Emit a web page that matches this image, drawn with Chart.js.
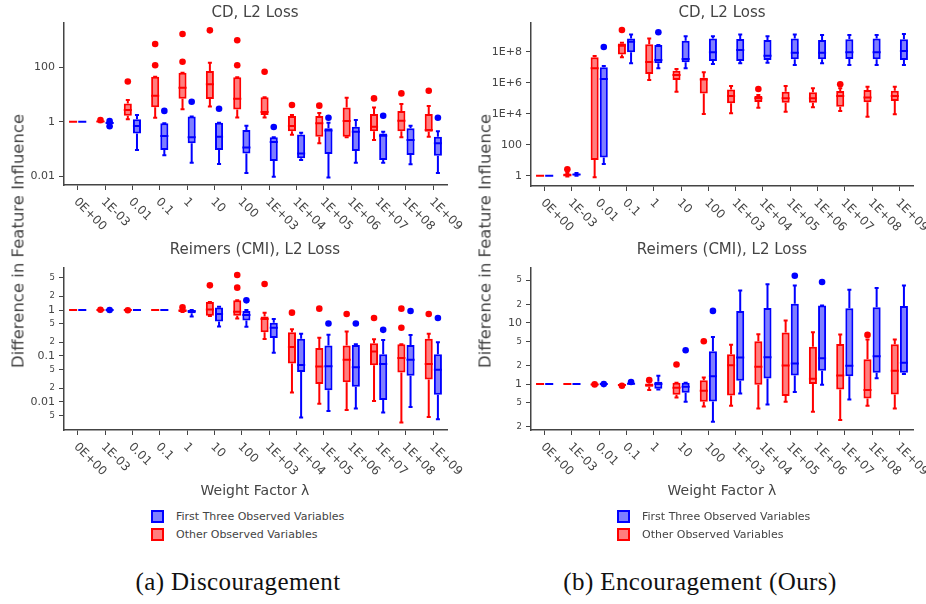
<!DOCTYPE html>
<html>
<head>
<meta charset="utf-8">
<script src="https://cdn.jsdelivr.net/npm/chart.js@4.4.1/dist/chart.umd.min.js"></script>
<style>
  body { margin: 0; background: #fff; }
  #wrap { position: relative; width: 926px; height: 604px; font-family: "DejaVu Sans", sans-serif; color: #444; }
  canvas { position: absolute; }
  .ctr { position: absolute; width: 400px; text-align: center; white-space: nowrap; }
  .ytl { position: absolute; white-space: nowrap; font-size: 16.5px; transform: translate(-50%, -50%) rotate(-90deg); }
  .leg { position: absolute; font-size: 11px; white-space: nowrap; line-height: 12px; }
  .sw { display: inline-block; width: 9px; height: 9px; border: 2px solid; vertical-align: top; margin-right: 12px; margin-top: -1px; }
  .cap { position: absolute; width: 400px; text-align: center; font-family: "Liberation Serif", serif; font-size: 25px; letter-spacing: 0.4px; color: #111; }
</style>
</head>
<body>
<div id="wrap">
  <canvas id="cdDisc" width="466" height="240" style="left:0;top:0"></canvas>
  <canvas id="cdEnc" width="466" height="240" style="left:460px;top:0"></canvas>
  <canvas id="cmiDisc" width="466" height="260" style="left:0;top:240px"></canvas>
  <canvas id="cmiEnc" width="466" height="260" style="left:460px;top:240px"></canvas>

  <div class="ctr" style="left:55px;top:3px;font-size:15px">CD, L2 Loss</div>
  <div class="ctr" style="left:522px;top:3px;font-size:15px">CD, L2 Loss</div>
  <div class="ctr" style="left:55px;top:240px;font-size:15px">Reimers (CMI), L2 Loss</div>
  <div class="ctr" style="left:522px;top:240px;font-size:15px">Reimers (CMI), L2 Loss</div>

  <div class="ytl" style="left:18px;top:241px">Difference in Feature Influence</div>
  <div class="ytl" style="left:485px;top:241px">Difference in Feature Influence</div>

  <div class="ctr" style="left:55px;top:482px;font-size:14px">Weight Factor λ</div>
  <div class="ctr" style="left:522px;top:482px;font-size:14px">Weight Factor λ</div>

  <div class="leg" style="left:151px;top:511px"><span class="sw" style="border-color:#00f;background:rgba(0,0,255,0.5)"></span>First Three Observed Variables</div>
  <div class="leg" style="left:151px;top:529px"><span class="sw" style="border-color:#f00;background:rgba(255,0,0,0.5)"></span>Other Observed Variables</div>
  <div class="leg" style="left:617px;top:511px"><span class="sw" style="border-color:#00f;background:rgba(0,0,255,0.5)"></span>First Three Observed Variables</div>
  <div class="leg" style="left:617px;top:529px"><span class="sw" style="border-color:#f00;background:rgba(255,0,0,0.5)"></span>Other Observed Variables</div>

  <div class="cap" style="left:38px;top:568px">(a) Discouragement</div>
  <div class="cap" style="left:500px;top:568px">(b) Encouragement (Ours)</div>
</div>

<script>
'use strict'
///data: every box is [lower whisker, q1, median, q3, upper whisker]///

let lambdaLabels = ['0E+00', '1E-03', '0.01', '0.1', '1', '10', '100', '1E+03', '1E+04', '1E+05', '1E+06', '1E+07', '1E+08', '1E+09']

//CD, discouragement
let cdDiscOther = [
  [1, 1, 1, 1, 1], [0.95, 0.98, 1.02, 1.08, 1.12], [1.22, 1.66, 2.7, 4.7, 6.3], [1.4, 3.4, 9.1, 45, 45],
  [2.9, 7, 17.9, 63, 63], [3.6, 6.8, 23.7, 73, 148], [1.44, 2.8, 7, 43, 43], [1.44, 1.76, 2.27, 7.9, 8],
  [0.33, 0.45, 0.69, 1.62, 1.76], [0.16, 0.28, 0.87, 1.62, 2.1], [0.27, 0.28, 1.06, 3.3, 7.6], [0.21, 0.45, 0.65, 1.92, 3.3],
  [0.265, 0.45, 1.09, 2.47, 4.5], [0.28, 0.43, 0.49, 1.92, 3.8]
]
let cdDiscOtherOut = [[], [1.15], [30], [720, 120], [1690, 160], [2300], [1000, 120], [69], [4.1], [3.9], [], [7.2], [11], [13.8]]
let cdDiscFirst = [
  [1, 1, 1, 1, 1], [0.8, 0.85, 0.9, 0.95, 1], [0.091, 0.37, 0.69, 1.22, 1.76], [0.058, 0.091, 0.3, 0.87, 0.87],
  [0.031, 0.16, 0.265, 1.57, 1.57], [0.028, 0.091, 0.28, 0.92, 0.92], [0.013, 0.068, 0.113, 0.49, 0.71], [0.0095, 0.036, 0.18, 0.265, 0.27],
  [0.039, 0.045, 0.068, 0.34, 0.39], [0.0089, 0.065, 0.47, 0.57, 0.92], [0.031, 0.083, 0.43, 0.65, 1.15], [0.031, 0.039, 0.305, 0.37, 0.43],
  [0.027, 0.059, 0.21, 0.57, 0.71], [0.013, 0.056, 0.16, 0.28, 0.45]
]
let cdDiscFirstOut = [[], [1.05, 0.68], [], [2.5], [5.4], [3], [], [0.64], [], [1.4], [], [1.66], [], [1.4]]

//CD, encouragement
let cdEncOther = [
  [1, 1, 1, 1, 1], [0.9, 1, 1.05, 1.4, 1.5], [0.78, 10.3, 8.4e6, 4.3e7, 5.2e7], [4.3e7, 6.7e7, 2.4e8, 3.4e8, 3.8e8],
  [1.5e6, 3.6e6, 2.2e7, 3e8, 7.2e8], [2.6e5, 1.5e6, 3.1e6, 5.9e6, 7.6e6], [9.5e3, 2e5, 1.6e6, 2.1e6, 4.7e6], [1.05e4, 4.7e4, 1.4e5, 3.7e5, 6.1e5],
  [2.4e4, 5.6e4, 9.8e4, 1.4e5, 1.6e5], [1.35e4, 5.1e4, 9.8e4, 2.6e5, 6.1e5], [2.6e4, 5.1e4, 9.8e4, 2.4e5, 4.3e5], [1.5e4, 2.8e4, 1.4e5, 2.9e5, 4.3e5],
  [6.4e3, 5.4e4, 1.1e5, 3.4e5, 5.5e5], [9.1e3, 6.6e4, 1.4e5, 3e5, 5.5e5]
]
let cdEncOtherOut = [[], [2.6], [], [2.5e9], [], [], [], [], [3.9e5], [], [], [7.8e5], [], []]
let cdEncFirst = [
  [1, 1, 1, 1, 1], [1, 1.05, 1.2, 1.35, 1.5], [5.7, 15, 1.7e6, 9.8e6, 1.2e7], [1.8e7, 9.1e7, 4.4e8, 7.2e8, 1.3e9],
  [8.4e6, 1.8e7, 2.9e7, 2.7e8, 2.7e8], [8.4e6, 2.1e7, 3.4e7, 5.1e8, 1e9], [1.6e7, 2.5e7, 9.1e7, 7.2e8, 1e9], [1.8e7, 2.5e7, 1.3e8, 6.6e8, 1.3e9],
  [1.9e7, 2.9e7, 5.5e7, 5.6e8, 1e9], [1.4e7, 3.2e7, 8.7e7, 7.2e8, 1.3e9], [1.8e7, 3.2e7, 8.7e7, 5.6e8, 1.2e9], [1.4e7, 3.4e7, 9.1e7, 6.3e8, 1.2e9],
  [1.4e7, 3.2e7, 9.1e7, 7.2e8, 1.2e9], [1.4e7, 2.9e7, 1.1e8, 6.3e8, 1.4e9]
]
let cdEncFirstOut = [[], [], [2e8], [], [1.8e9], [], [], [], [], [], [], [], [], []]

//Reimers (CMI), discouragement
let cmiDiscOther = [
  [1, 1, 1, 1, 1], [0.99, 1, 1, 1, 1.01], [1, 1, 1, 1, 1], [1, 1, 1, 1, 1],
  [0.9, 0.905, 0.97, 1.03, 1.03], [0.74, 0.75, 1.03, 1.49, 1.49], [0.65, 0.75, 0.92, 1.62, 1.62], [0.234, 0.33, 0.64, 0.72, 0.875],
  [0.016, 0.069, 0.157, 0.33, 0.38], [0.0091, 0.0246, 0.059, 0.149, 0.25], [0.0067, 0.027, 0.083, 0.17, 0.34], [0.0105, 0.063, 0.126, 0.19, 0.23],
  [0.0036, 0.0435, 0.09, 0.18, 0.18], [0.0047, 0.031, 0.067, 0.238, 0.306]
]
let cmiDiscOtherOut = [[], [1.01], [0.99], [], [1.14], [3.44], [5.76, 3.06], [3.67], [0.875], [1.07], [0.82], [0.67], [1.07, 0.41], [0.82]]
let cmiDiscFirst = [
  [1, 1, 1, 1, 1], [1, 1, 1, 1, 1], [1, 1, 1, 1, 1], [1, 1, 1, 1, 1],
  [0.72, 0.85, 0.935, 1, 1], [0.44, 0.56, 0.82, 1.14, 1.18], [0.43, 0.59, 0.78, 0.95, 1], [0.118, 0.246, 0.41, 0.53, 0.64],
  [0.0046, 0.045, 0.064, 0.238, 0.306], [0.0064, 0.018, 0.06, 0.17, 0.29], [0.0072, 0.0215, 0.057, 0.174, 0.18], [0.0059, 0.011, 0.067, 0.109, 0.223],
  [0.0078, 0.0373, 0.083, 0.174, 0.286], [0.0042, 0.0144, 0.05, 0.109, 0.198]
]
let cmiDiscFirstOut = [[], [1], [], [], [], [], [1.62], [], [], [0.51], [0.51], [0.37], [0.95], [0.67]]

//Reimers (CMI), encouragement
let cmiEncOther = [
  [1, 1, 1, 1, 1], [1, 1, 1, 1, 1], [0.97, 0.98, 0.99, 1, 1], [0.95, 0.96, 0.97, 0.98, 0.98],
  [0.8, 0.905, 0.96, 1.025, 1.13], [0.606, 0.67, 0.87, 1.05, 1.05], [0.43, 0.515, 0.78, 1.16, 1.28], [0.443, 0.654, 2.04, 3.08, 4.38],
  [0.4, 0.975, 1.92, 5.02, 6.5], [0.515, 0.637, 2.01, 6.95, 11], [0.354, 1, 1.22, 4.06, 7.05], [0.259, 0.819, 1.38, 4.54, 6.45],
  [0.443, 0.584, 0.8, 2.55, 5.34], [0.4, 0.678, 1.65, 4.49, 5.34]
]
let cmiEncOtherOut = [[], [], [0.99], [0.94], [1.16], [2.09], [5.02], [], [], [], [], [], [6.37], []]
let cmiEncFirst = [
  [1, 1, 1, 1, 1], [1, 1, 1, 1, 1], [1, 1, 1, 1, 1], [1, 1, 1.01, 1.02, 1.03],
  [0.82, 0.84, 1, 1.09, 1.37], [0.515, 0.72, 0.905, 1.05, 1.05], [0.243, 0.52, 1.35, 3.45, 5.9], [0.705, 1.13, 2.72, 15.7, 34],
  [0.466, 1.24, 2.75, 17.6, 42.7], [0.74, 1.38, 2.17, 20.6, 41], [0.975, 1.65, 2.65, 19.2, 19.2], [0.56, 1.35, 1.99, 17.3, 34.9],
  [1.25, 1.53, 2.86, 18, 37.2], [1.47, 1.53, 2.23, 18.9, 40.7]
]
let cmiEncFirstOut = [[], [], [1], [1.08], [], [3.58], [15.7], [], [], [59], [46.5], [], [], []]

//y ticks
let cdDiscTicks = [0.01, 1, 100]
let cdDiscTickLabels = ['0.01', '1', '100']
let cdEncTicks = [1, 100, 1e4, 1e6, 1e8]
let cdEncTickLabels = ['1', '100', '1E+4', '1E+6', '1E+8']
let cmiDiscTicks = [0.005, 0.01, 0.02, 0.05, 0.1, 0.2, 0.5, 1, 2, 5]
let cmiDiscTickLabels = ['5', '0.01', '2', '5', '0.1', '2', '5', '1', '2', '5']
let cmiEncTicks = [0.2, 0.5, 1, 2, 5, 10, 20, 50]
let cmiEncTickLabels = ['2', '5', '1', '2', '5', '10', '2', '5']

const grey = '#444'
const fontFamily = '"DejaVu Sans", sans-serif'

function isDecade(v) {
  let l = Math.log10(v)
  return Math.abs(l - Math.round(l)) < 1e-9
}

///whiskers, medians, outliers and the slanted x labels///
const boxPlugin = {
  id: 'boxes',
  afterDatasetsDraw(chart) {
    let ctx = chart.ctx
    let y = chart.scales.y
    chart.data.datasets.forEach((ds, i) => {
      let meta = chart.getDatasetMeta(i)
      meta.data.forEach((bar, j) => {
        let s = ds.stats[j]
        let x = bar.x
        let half = bar.width / 2
        let cap = bar.width / 4
        ctx.save()
        ctx.strokeStyle = ds.borderColor
        ctx.lineWidth = 2
        ctx.beginPath()
        ctx.moveTo(x, y.getPixelForValue(s[3]))
        ctx.lineTo(x, y.getPixelForValue(s[4]))
        ctx.moveTo(x, y.getPixelForValue(s[1]))
        ctx.lineTo(x, y.getPixelForValue(s[0]))
        ctx.moveTo(x - cap, y.getPixelForValue(s[4]))
        ctx.lineTo(x + cap, y.getPixelForValue(s[4]))
        ctx.moveTo(x - cap, y.getPixelForValue(s[0]))
        ctx.lineTo(x + cap, y.getPixelForValue(s[0]))
        ctx.moveTo(x - half, y.getPixelForValue(s[2]))//median
        ctx.lineTo(x + half, y.getPixelForValue(s[2]))
        ctx.stroke()
        ctx.fillStyle = ds.borderColor
        ds.outliers[j].forEach(v => {
          ctx.beginPath()
          ctx.arc(x, y.getPixelForValue(v), 3.3, 0, Math.PI * 2)
          ctx.fill()
        })
        ctx.restore()
      })
    })
  },
  afterDraw(chart) {
    let ctx = chart.ctx
    let xs = chart.scales.x
    ctx.save()
    ctx.font = '12px ' + fontFamily
    ctx.fillStyle = grey
    ctx.textAlign = 'left'
    ctx.textBaseline = 'middle'
    xs.ticks.forEach((t, i) => {
      ctx.save()
      ctx.translate(xs.getPixelForTick(i) - 2, xs.top + 15)
      ctx.rotate(Math.PI / 4)
      ctx.fillText(chart.data.labels[i], 0, 0)
      ctx.restore()
    })
    ctx.restore()
  }
}

function makePanel(id, other, otherOut, first, firstOut, yMin, yMax, ticks, tickLabels, box) {
  let ctx = document.getElementById(id).getContext('2d')
  return new Chart(ctx, {
    type: 'bar',
    data: {
      labels: lambdaLabels,
      datasets: [{
        label: 'Other Observed Variables',
        data: other.map(s => [s[1], s[3]]),
        stats: other,
        outliers: otherOut,
        backgroundColor: 'rgba(255,0,0,0.5)',
        borderColor: 'rgb(255,0,0)',
        borderWidth: 2,
        borderSkipped: false,
        categoryPercentage: 0.67,
        barPercentage: 0.88
      }, {
        label: 'First Three Observed Variables',
        data: first.map(s => [s[1], s[3]]),
        stats: first,
        outliers: firstOut,
        backgroundColor: 'rgba(0,0,255,0.5)',
        borderColor: 'rgb(0,0,255)',
        borderWidth: 2,
        borderSkipped: false,
        categoryPercentage: 0.67,
        barPercentage: 0.88
      }]
    },
    options: {
      responsive: false,
      animation: false,
      layout: { padding: { top: box.top, right: box.right, left: 0, bottom: 0 } },
      plugins: { legend: { display: false }, tooltip: { enabled: false } },
      scales: {
        x: {
          offset: true,
          grid: { display: true, drawOnChartArea: false, offset: false, tickLength: 5, color: grey, tickWidth: 1 },
          border: { display: true, color: grey, width: 1.5 },
          ticks: { display: false },
          afterFit: s => { s.height = box.xh }
        },
        y: {
          type: 'logarithmic',
          min: yMin,
          max: yMax,
          grid: { drawOnChartArea: false, tickLength: 5, color: grey, tickWidth: 1 },
          border: { display: true, color: grey, width: 1.5 },
          ticks: {
            autoSkip: false,
            padding: 4,
            color: grey,
            font: c => ({ family: fontFamily, size: (c.tick && !isDecade(c.tick.value)) ? 8.5 : 11 }),
            callback: (v, i) => tickLabels[i]
          },
          afterBuildTicks: s => { s.ticks = ticks.map(v => ({ value: v })) },
          afterFit: s => { s.width = box.yw }
        }
      }
    },
    plugins: [boxPlugin]
  })
}

makePanel('cdDisc', cdDiscOther, cdDiscOtherOut, cdDiscFirst, cdDiscFirstOut, 0.00468, 4295, cdDiscTicks, cdDiscTickLabels,
  { top: 23, right: 19, yw: 64, xh: 55 })
makePanel('cdEnc', cdEncOther, cdEncOtherOut, cdEncFirst, cdEncFirstOut, 0.216, 7.1e9, cdEncTicks, cdEncTickLabels,
  { top: 23, right: 13, yw: 71, xh: 54 })
makePanel('cmiDisc', cmiDiscOther, cmiDiscOtherOut, cmiDiscFirst, cmiDiscFirstOut, 0.00246, 8.19, cmiDiscTicks, cmiDiscTickLabels,
  { top: 28, right: 19, yw: 64, xh: 70 })
makePanel('cmiEnc', cmiEncOther, cmiEncOtherOut, cmiEncFirst, cmiEncFirstOut, 0.178, 78.9, cmiEncTicks, cmiEncTickLabels,
  { top: 28, right: 13, yw: 71, xh: 70 })
</script>
</body>
</html>
